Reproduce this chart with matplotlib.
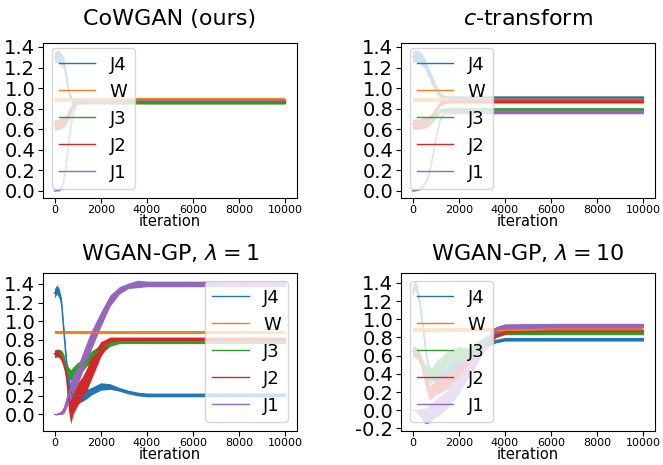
import matplotlib
matplotlib.use("Agg")
import matplotlib.pyplot as plt

plt.rcParams['axes.unicode_minus'] = False

iters = [0, 100, 200, 300, 400, 500, 600, 700, 800, 1000, 1200, 1400,
         1600, 2000, 2400, 2800, 3200, 3600, 4000, 6000, 8000, 10000]

labels = ['J4', 'W', 'J3', 'J2', 'J1']
colors = ['tab:blue', 'tab:orange', 'tab:green', 'tab:red', 'tab:purple']
titles = ['CoWGAN (ours)', '$c$-transform', r'WGAN-GP, $\lambda=1$', r'WGAN-GP, $\lambda=10$']

# CoWGAN (ours): centre value and noise half-width
cow_j4 = [1.30, 1.31, 1.30, 1.28, 1.24, 1.12, 0.98, 0.90, 0.87, 0.87, 0.87, 0.87, 0.87, 0.87, 0.87, 0.87, 0.87, 0.87, 0.87, 0.87, 0.87, 0.87]
cow_j4_n = [0.05, 0.06, 0.06, 0.06, 0.06, 0.06, 0.05, 0.04, 0.02, 0.02, 0.02, 0.02, 0.02, 0.02, 0.02, 0.02, 0.02, 0.02, 0.02, 0.02, 0.02, 0.02]
cow_w = [0.885] * 22
cow_w_n = [0.02] * 22
cow_j3 = [0.65, 0.65, 0.65, 0.66, 0.67, 0.70, 0.75, 0.80, 0.84, 0.86, 0.86, 0.86, 0.86, 0.86, 0.86, 0.86, 0.86, 0.86, 0.86, 0.86, 0.86, 0.86]
cow_j3_n = [0.04, 0.04, 0.04, 0.04, 0.04, 0.04, 0.04, 0.03, 0.02, 0.015, 0.015, 0.015, 0.015, 0.015, 0.015, 0.015, 0.015, 0.015, 0.015, 0.015, 0.015, 0.015]
cow_j2 = [0.65, 0.64, 0.65, 0.66, 0.67, 0.69, 0.73, 0.78, 0.83, 0.87, 0.87, 0.87, 0.87, 0.87, 0.87, 0.87, 0.87, 0.87, 0.87, 0.87, 0.87, 0.87]
cow_j2_n = [0.05, 0.05, 0.05, 0.05, 0.05, 0.04, 0.04, 0.03, 0.02, 0.02, 0.02, 0.02, 0.02, 0.02, 0.02, 0.02, 0.02, 0.02, 0.02, 0.02, 0.02, 0.02]
cow_j1 = [0.00, 0.005, 0.01, 0.03, 0.10, 0.25, 0.45, 0.62, 0.76, 0.89, 0.88, 0.875, 0.875, 0.875, 0.875, 0.875, 0.875, 0.875, 0.875, 0.875, 0.875, 0.875]
cow_j1_n = [0.0, 0.005, 0.01, 0.01, 0.015, 0.02, 0.02, 0.02, 0.02, 0.02, 0.02, 0.02, 0.02, 0.02, 0.02, 0.02, 0.02, 0.02, 0.02, 0.02, 0.02, 0.02]

# c-transform
ct_j4 = [1.30, 1.31, 1.31, 1.30, 1.28, 1.25, 1.20, 1.15, 1.10, 1.00, 0.93, 0.91, 0.905, 0.905, 0.905, 0.905, 0.905, 0.905, 0.905, 0.905, 0.905, 0.905]
ct_j4_n = [0.05, 0.06, 0.06, 0.06, 0.06, 0.05, 0.05, 0.05, 0.05, 0.04, 0.03, 0.02, 0.02, 0.02, 0.02, 0.02, 0.02, 0.02, 0.02, 0.02, 0.02, 0.02]
ct_w = [0.885] * 22
ct_w_n = [0.02] * 22
ct_j3 = [0.65, 0.65, 0.65, 0.65, 0.65, 0.65, 0.66, 0.67, 0.68, 0.73, 0.78, 0.79, 0.79, 0.79, 0.79, 0.79, 0.79, 0.79, 0.79, 0.79, 0.79, 0.79]
ct_j3_n = [0.04, 0.04, 0.04, 0.04, 0.04, 0.04, 0.04, 0.04, 0.04, 0.03, 0.02, 0.02, 0.02, 0.02, 0.02, 0.02, 0.02, 0.02, 0.02, 0.02, 0.02, 0.02]
ct_j2 = [0.65, 0.65, 0.65, 0.65, 0.66, 0.66, 0.67, 0.69, 0.71, 0.78, 0.85, 0.87, 0.875, 0.875, 0.875, 0.875, 0.875, 0.875, 0.875, 0.875, 0.875, 0.875]
ct_j2_n = [0.05, 0.05, 0.05, 0.05, 0.05, 0.05, 0.05, 0.04, 0.04, 0.03, 0.02, 0.02, 0.02, 0.02, 0.02, 0.02, 0.02, 0.02, 0.02, 0.02, 0.02, 0.02]
ct_j1 = [0.00, 0.005, 0.01, 0.02, 0.04, 0.06, 0.10, 0.16, 0.25, 0.50, 0.70, 0.77, 0.77, 0.77, 0.77, 0.77, 0.77, 0.77, 0.77, 0.77, 0.77, 0.77]
ct_j1_n = [0.0, 0.005, 0.005, 0.01, 0.01, 0.01, 0.015, 0.02, 0.02, 0.02, 0.02, 0.02, 0.02, 0.02, 0.02, 0.02, 0.02, 0.02, 0.02, 0.02, 0.02, 0.02]

# WGAN-GP, lambda = 1
gp1_j4 = [1.30, 1.34, 1.30, 1.20, 0.90, 0.60, 0.35, 0.25, 0.20, 0.20, 0.20, 0.22, 0.25, 0.30, 0.30, 0.27, 0.24, 0.22, 0.21, 0.21, 0.21, 0.21]
gp1_j4_n = [0.05, 0.05, 0.05, 0.05, 0.05, 0.05, 0.06, 0.08, 0.08, 0.08, 0.06, 0.05, 0.04, 0.04, 0.03, 0.02, 0.02, 0.02, 0.02, 0.02, 0.02, 0.02]
gp1_w = [0.88] * 22
gp1_w_n = [0.02] * 22
gp1_j3 = [0.65, 0.66, 0.66, 0.65, 0.60, 0.50, 0.45, 0.42, 0.45, 0.50, 0.52, 0.58, 0.62, 0.70, 0.76, 0.78, 0.78, 0.78, 0.78, 0.78, 0.78, 0.78]
gp1_j3_n = [0.04, 0.04, 0.04, 0.04, 0.05, 0.05, 0.06, 0.06, 0.06, 0.06, 0.06, 0.06, 0.06, 0.05, 0.03, 0.02, 0.02, 0.02, 0.02, 0.02, 0.02, 0.02]
gp1_j2 = [0.65, 0.66, 0.65, 0.62, 0.55, 0.45, 0.20, 0.05, 0.15, 0.22, 0.28, 0.38, 0.50, 0.70, 0.80, 0.81, 0.81, 0.81, 0.81, 0.81, 0.81, 0.81]
gp1_j2_n = [0.04, 0.04, 0.04, 0.05, 0.06, 0.08, 0.15, 0.15, 0.15, 0.12, 0.12, 0.12, 0.12, 0.08, 0.03, 0.02, 0.02, 0.02, 0.02, 0.02, 0.02, 0.02]
gp1_j1 = [0.00, 0.00, 0.01, 0.02, 0.05, 0.12, 0.20, 0.26, 0.32, 0.42, 0.55, 0.68, 0.80, 1.02, 1.22, 1.33, 1.38, 1.40, 1.40, 1.40, 1.40, 1.40]
gp1_j1_n = [0.0, 0.005, 0.01, 0.02, 0.04, 0.06, 0.08, 0.10, 0.10, 0.10, 0.10, 0.10, 0.10, 0.08, 0.06, 0.04, 0.03, 0.04, 0.03, 0.03, 0.03, 0.03]

# WGAN-GP, lambda = 10
gp10_j4 = [1.30, 1.38, 1.32, 1.20, 1.00, 0.80, 0.60, 0.45, 0.40, 0.35, 0.38, 0.40, 0.44, 0.50, 0.58, 0.66, 0.72, 0.76, 0.78, 0.78, 0.78, 0.78]
gp10_j4_n = [0.05, 0.05, 0.06, 0.06, 0.06, 0.06, 0.06, 0.06, 0.06, 0.06, 0.06, 0.06, 0.06, 0.06, 0.05, 0.04, 0.03, 0.02, 0.02, 0.02, 0.02, 0.02]
gp10_w = [0.885] * 22
gp10_w_n = [0.02] * 22
gp10_j3 = [0.65, 0.64, 0.62, 0.58, 0.52, 0.45, 0.40, 0.36, 0.38, 0.45, 0.50, 0.55, 0.58, 0.62, 0.62, 0.70, 0.78, 0.83, 0.85, 0.85, 0.85, 0.85]
gp10_j3_n = [0.06, 0.06, 0.06, 0.06, 0.06, 0.08, 0.08, 0.08, 0.08, 0.08, 0.08, 0.08, 0.08, 0.08, 0.06, 0.05, 0.04, 0.03, 0.02, 0.02, 0.02, 0.02]
gp10_j2 = [0.65, 0.64, 0.62, 0.60, 0.50, 0.40, 0.30, 0.20, 0.20, 0.25, 0.27, 0.30, 0.33, 0.40, 0.50, 0.62, 0.73, 0.83, 0.86, 0.87, 0.87, 0.87]
gp10_j2_n = [0.05, 0.05, 0.05, 0.05, 0.06, 0.08, 0.08, 0.08, 0.08, 0.08, 0.08, 0.08, 0.08, 0.08, 0.07, 0.06, 0.05, 0.03, 0.02, 0.02, 0.02, 0.02]
gp10_j1 = [0.00, 0.00, -0.01, -0.02, -0.04, -0.06, -0.06, -0.04, -0.02, 0.02, 0.06, 0.10, 0.15, 0.28, 0.45, 0.60, 0.75, 0.88, 0.92, 0.93, 0.93, 0.93]
gp10_j1_n = [0.0, 0.01, 0.02, 0.04, 0.06, 0.08, 0.09, 0.10, 0.10, 0.10, 0.10, 0.10, 0.10, 0.10, 0.10, 0.08, 0.06, 0.04, 0.03, 0.025, 0.025, 0.025]

panels = [
    [(cow_j4, cow_j4_n), (cow_w, cow_w_n), (cow_j3, cow_j3_n), (cow_j2, cow_j2_n), (cow_j1, cow_j1_n)],
    [(ct_j4, ct_j4_n), (ct_w, ct_w_n), (ct_j3, ct_j3_n), (ct_j2, ct_j2_n), (ct_j1, ct_j1_n)],
    [(gp1_j4, gp1_j4_n), (gp1_w, gp1_w_n), (gp1_j3, gp1_j3_n), (gp1_j2, gp1_j2_n), (gp1_j1, gp1_j1_n)],
    [(gp10_j4, gp10_j4_n), (gp10_w, gp10_w_n), (gp10_j3, gp10_j3_n), (gp10_j2, gp10_j2_n), (gp10_j1, gp10_j1_n)],
]

fig = plt.figure(figsize=(6.63, 4.65), dpi=100)
W, H = 663, 465
boxes = [(43, 43, 254, 155), (401, 43, 254, 155), (43, 273, 254, 158), (401, 273, 254, 158)]
legend_loc = ['lower left', 'lower left', 'lower right', 'lower left']
title_pad = [13, 13, 9.5, 9.5]

for k, (px, py, pw, ph) in enumerate(boxes):
    ax = fig.add_axes([px / W, 1 - (py + ph) / H, pw / W, ph / H])
    for (mid, noise), lab, c in zip(panels[k], labels, colors):
        lo = [m - n for m, n in zip(mid, noise)]
        hi = [m + n for m, n in zip(mid, noise)]
        ax.fill_between(iters, lo, hi, color=c, lw=0)
        ax.plot(iters, mid, color=c, lw=1, label=lab)
    ax.set_title(titles[k], fontsize=16, pad=title_pad[k])
    ax.set_xlabel('iteration', fontsize=10.5, labelpad=-1)
    ax.set_xticks([0, 2000, 4000, 6000, 8000, 10000])
    ax.set_yticks([-0.2, 0.0, 0.2, 0.4, 0.6, 0.8, 1.0, 1.2, 1.4] if k == 3 else [0.0, 0.2, 0.4, 0.6, 0.8, 1.0, 1.2, 1.4])
    ax.tick_params(axis='x', labelsize=8, pad=1.5)
    ax.tick_params(axis='y', labelsize=14, pad=2)
    ax.legend(loc=legend_loc[k], fontsize=13, borderaxespad=0.5)

plt.savefig('out.png', dpi=100)
